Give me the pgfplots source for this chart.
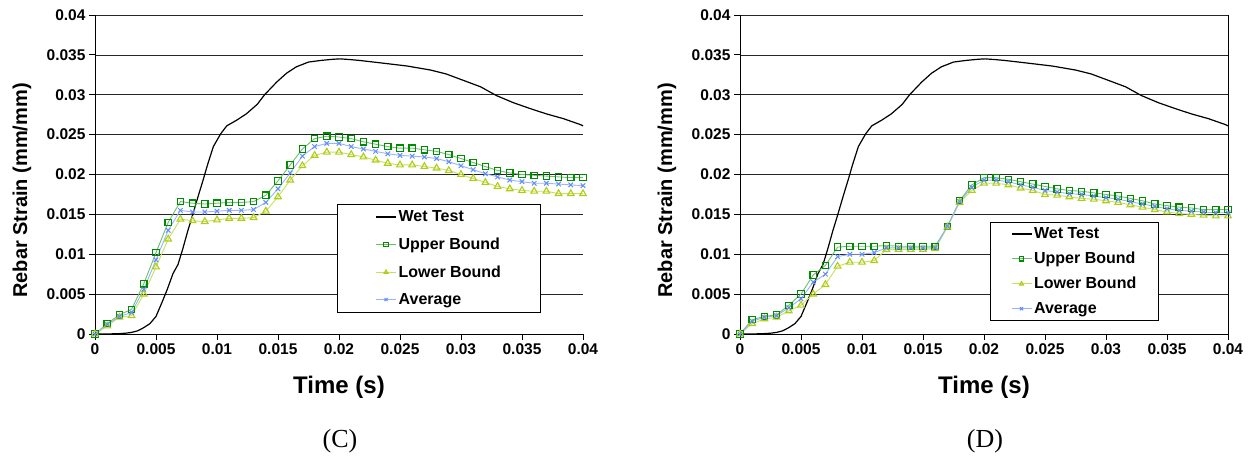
\documentclass[border=0pt]{standalone}
\usepackage{pgfplots}
\pgfplotsset{compat=1.18}
\usepackage{pgfplotstable}
\usepackage{fontspec}
\setmainfont{Liberation Sans}
\newfontfamily\timesfont{Liberation Serif}

\definecolor{upline}{RGB}{110,190,110}
\definecolor{upmark}{RGB}{0,140,0}
\definecolor{loline}{RGB}{200,225,90}
\definecolor{lomark}{RGB}{175,205,20}
\definecolor{avline}{RGB}{150,180,255}
\definecolor{avmark}{RGB}{100,140,250}

\pgfplotstableread{
t v
0 0
0.001 0.0000
0.002 0.00005
0.0025 0.0001
0.003 0.0002
0.0035 0.0004
0.004 0.0008
0.0045 0.0013
0.005 0.0022
0.0055 0.0040
0.0059 0.0055
0.0064 0.0076
0.0068 0.0087
0.0072 0.0107
0.0076 0.0129
0.0080 0.0149
0.0085 0.0175
0.0089 0.0195
0.0092 0.0211
0.0097 0.0235
0.0103 0.0251
0.0108 0.0261
0.0116 0.0268
0.0124 0.0276
0.0133 0.0288
0.0139 0.0300
0.0149 0.0316
0.0157 0.0327
0.0165 0.0335
0.0175 0.0341
0.0185 0.0343
0.0195 0.03445
0.0201 0.0345
0.0210 0.0344
0.0217 0.0343
0.0234 0.0340
0.0256 0.0336
0.0275 0.0331
0.0288 0.0326
0.0302 0.0318
0.0316 0.0310
0.0329 0.0299
0.0343 0.0290
0.0357 0.02825
0.0370 0.0276
0.0384 0.0270
0.0398 0.02625
0.0400 0.0261
}\wettable

\pgfplotstableread{
t v
0 0
0.001 0.0013
0.002 0.0024
0.003 0.0031
0.004 0.0063
0.005 0.0102
0.006 0.0140
0.007 0.0166
0.008 0.0164
0.009 0.0163
0.010 0.0164
0.011 0.0165
0.012 0.0165
0.013 0.0166
0.014 0.0174
0.015 0.0192
0.016 0.0212
0.017 0.0232
0.018 0.0245
0.019 0.0248
0.020 0.0247
0.021 0.0245
0.022 0.0241
0.023 0.0238
0.024 0.0235
0.025 0.0233
0.026 0.0233
0.027 0.0231
0.028 0.0229
0.029 0.0225
0.030 0.0220
0.031 0.0215
0.032 0.0210
0.033 0.0205
0.034 0.0202
0.035 0.0200
0.036 0.0199
0.037 0.0198
0.038 0.0197
0.039 0.0196
0.040 0.0196
}\upC

\pgfplotstableread{
t v
0 0
0.001 0.0010
0.002 0.0021
0.003 0.0023
0.004 0.0050
0.005 0.0084
0.006 0.0119
0.007 0.0144
0.008 0.0142
0.009 0.0141
0.010 0.0143
0.011 0.0145
0.012 0.0145
0.013 0.0146
0.014 0.0154
0.015 0.0172
0.016 0.0193
0.017 0.0211
0.018 0.0224
0.019 0.0228
0.020 0.0228
0.021 0.0225
0.022 0.0222
0.023 0.0218
0.024 0.0214
0.025 0.0212
0.026 0.0212
0.027 0.0210
0.028 0.0208
0.029 0.0205
0.030 0.0200
0.031 0.0195
0.032 0.0190
0.033 0.0185
0.034 0.0182
0.035 0.0180
0.036 0.0179
0.037 0.0179
0.038 0.0176
0.039 0.0176
0.040 0.0176
}\loC

\pgfplotstableread{
t v
0 0
0.001 0.0012
0.002 0.0022
0.003 0.0027
0.004 0.0056
0.005 0.0093
0.006 0.0130
0.007 0.0155
0.008 0.0153
0.009 0.0153
0.010 0.0154
0.011 0.0155
0.012 0.0155
0.013 0.0156
0.014 0.0165
0.015 0.0182
0.016 0.0202
0.017 0.0223
0.018 0.0235
0.019 0.0239
0.020 0.0239
0.021 0.0235
0.022 0.0232
0.023 0.0229
0.024 0.0226
0.025 0.0224
0.026 0.0223
0.027 0.0222
0.028 0.0220
0.029 0.0216
0.030 0.0211
0.031 0.0206
0.032 0.0201
0.033 0.0197
0.034 0.0193
0.035 0.0191
0.036 0.0189
0.037 0.0189
0.038 0.0188
0.039 0.0187
0.040 0.0186
}\avC

\pgfplotstableread{
t v
0 0
0.001 0.0018
0.002 0.0022
0.003 0.0024
0.004 0.0036
0.005 0.0050
0.006 0.0074
0.007 0.0086
0.008 0.0109
0.009 0.0110
0.010 0.0110
0.011 0.0110
0.012 0.0111
0.013 0.0110
0.014 0.0110
0.015 0.0110
0.016 0.0110
0.017 0.0135
0.018 0.0167
0.019 0.0187
0.020 0.0196
0.021 0.0196
0.022 0.0194
0.023 0.0191
0.024 0.0188
0.025 0.0185
0.026 0.0182
0.027 0.0180
0.028 0.0179
0.029 0.0177
0.030 0.0175
0.031 0.0173
0.032 0.0170
0.033 0.0167
0.034 0.0163
0.035 0.0161
0.036 0.0159
0.037 0.0158
0.038 0.0156
0.039 0.0156
0.040 0.0156
}\upD

\pgfplotstableread{
t v
0 0
0.001 0.0013
0.002 0.0019
0.003 0.0021
0.004 0.0029
0.005 0.0036
0.006 0.0050
0.007 0.0062
0.008 0.0085
0.009 0.0090
0.010 0.0090
0.011 0.0092
0.012 0.0106
0.013 0.0106
0.014 0.0106
0.015 0.0106
0.016 0.0107
0.017 0.0134
0.018 0.0165
0.019 0.0180
0.020 0.0189
0.021 0.0189
0.022 0.0187
0.023 0.0183
0.024 0.0180
0.025 0.0175
0.026 0.0174
0.027 0.0172
0.028 0.0170
0.029 0.0169
0.030 0.0167
0.031 0.0165
0.032 0.0162
0.033 0.0159
0.034 0.0156
0.035 0.0153
0.036 0.0151
0.037 0.0150
0.038 0.0149
0.039 0.0148
0.040 0.0148
}\loD

\pgfplotstableread{
t v
0 0
0.001 0.0016
0.002 0.0021
0.003 0.0023
0.004 0.0033
0.005 0.0044
0.006 0.0065
0.007 0.0075
0.008 0.0097
0.009 0.0100
0.010 0.0100
0.011 0.0102
0.012 0.0108
0.013 0.0108
0.014 0.0108
0.015 0.0108
0.016 0.0108
0.017 0.0135
0.018 0.0166
0.019 0.0184
0.020 0.0193
0.021 0.0193
0.022 0.0191
0.023 0.0187
0.024 0.0184
0.025 0.0180
0.026 0.0178
0.027 0.0176
0.028 0.0175
0.029 0.0173
0.030 0.0171
0.031 0.0169
0.032 0.0166
0.033 0.0163
0.034 0.0160
0.035 0.0157
0.036 0.0155
0.037 0.0154
0.038 0.0153
0.039 0.0152
0.040 0.0152
}\avD

\pgfplotsset{
  strainaxis/.style={
    scale only axis, width=488pt, height=319pt,
    anchor=south west,
    xmin=0, xmax=0.04, ymin=0, ymax=0.04,
    xtick={0,0.005,0.01,0.015,0.02,0.025,0.03,0.035,0.04},
    ytick={0,0.005,0.01,0.015,0.02,0.025,0.03,0.035,0.04},
    xticklabels={0,0.005,0.01,0.015,0.02,0.025,0.03,0.035,0.04},
    yticklabels={0,0.005,0.01,0.015,0.02,0.025,0.03,0.035,0.04},
    scaled ticks=false,
    axis x line*=bottom, axis y line*=left,
    axis line style={black, line width=1pt},
    tick align=outside, major tick length=6pt,
    every tick/.style={black, line width=0.8pt},
    ymajorgrids, grid style={black!85, line width=0.7pt},
    ticklabel style={font=\bfseries\fontsize{15.5}{18}\selectfont},
    xlabel={Time (s)}, ylabel={Rebar Strain (mm/mm)},
    xlabel style={font=\bfseries\fontsize{24}{28}\selectfont, at={(axis description cs:0.5,-0.1661)}, anchor=center},
    ylabel style={font=\bfseries\fontsize{20}{24}\selectfont, at={(axis description cs:-0.1496,0.45)}, anchor=center},
    legend cell align=left,
    legend image code/.code={\draw[mark repeat=2,mark phase=2,mark size=2.2pt] plot coordinates {(0pt,0pt) (10pt,0pt) (20pt,0pt)};},
    clip=false,
  },
  wet/.style={black, line width=1.2pt, no marks},
  upper/.style={upline, line width=0.9pt, mark=square, mark size=3.2pt, mark options={draw=upmark, fill=none, line width=1.1pt, solid}},
  lower/.style={loline, line width=0.9pt, mark=triangle, mark size=3.8pt, mark options={draw=lomark, fill=none, line width=1.1pt, solid}},
  average/.style={avline, line width=0.9pt, mark=x, mark size=3.2pt, mark options={draw=avmark, line width=1pt, solid}},
}

\begin{document}
\begin{tikzpicture}
\path[use as bounding box] (0,0) rectangle (1249pt,464pt);

\begin{axis}[strainaxis, at={(95pt,130pt)},
  legend style={at={(0.496,0.4075)}, anchor=north west, draw=black, line width=0.8pt, fill=white,
    inner xsep=38pt, inner ysep=4.4pt, row sep=10.6pt,
    font=\bfseries\fontsize{16}{18}\selectfont, nodes={inner sep=2pt, text depth=0.15em}}]
  \addplot[wet] table {\wettable};
  \addplot[upper] table {\upC};
  \addplot[lower] table {\loC};
  \addplot[average] table {\avC};
  \legend{Wet Test, Upper Bound, Lower Bound, Average}
\end{axis}

\begin{axis}[strainaxis, at={(740pt,130pt)},
  legend style={at={(0.5123,0.351)}, anchor=north west, draw=black, line width=0.8pt, fill=white,
    inner xsep=20.5pt, inner ysep=3.3pt, row sep=8pt,
    font=\bfseries\fontsize{16}{18}\selectfont, nodes={inner sep=2pt, text depth=0.15em}}]
  \addplot[wet] table {\wettable};
  \addplot[upper] table {\upD};
  \addplot[lower] table {\loD};
  \addplot[average] table {\avD};
  \legend{Wet Test, Upper Bound, Lower Bound, Average}
  \draw[black, line width=1pt] (rel axis cs:1,0) -- (rel axis cs:1,1);
\end{axis}

\node[font=\timesfont\fontsize{26}{30}\selectfont] at (340pt,23pt) {(C)};
\node[font=\timesfont\fontsize{26}{30}\selectfont] at (985pt,23pt) {(D)};
\end{tikzpicture}
\end{document}
